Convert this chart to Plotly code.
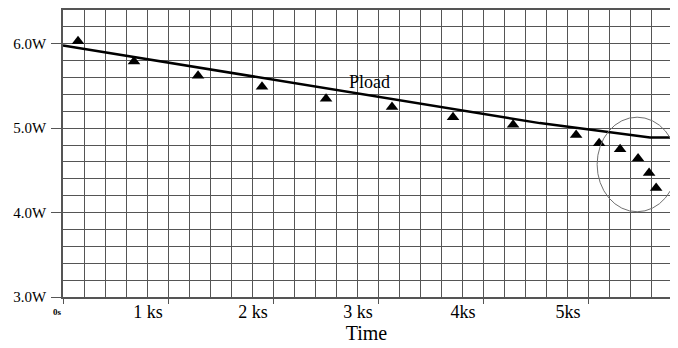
import plotly.graph_objects as go

# Pload curve (time in ks, power in W)
line_t = [0.0, 4.54, 5.59, 5.78]
line_p = [5.98, 5.06, 4.89, 4.89]

# measured points (triangles)
pts_t = [0.143, 0.676, 1.286, 1.895, 2.505, 3.133, 3.714, 4.286, 4.886, 5.105, 5.305, 5.476, 5.581, 5.648]
pts_p = [6.03, 5.79, 5.62, 5.49, 5.35, 5.25, 5.13, 5.04, 4.92, 4.82, 4.75, 4.64, 4.47, 4.29]

x_tickvals = [0, 1, 2, 3, 4, 5]
x_ticktext = ["", "1 ks", "2 ks", "3 ks", "4ks", "5ks"]
y_tickvals = [3, 4, 5, 6]
y_ticktext = ["3.0W", "4.0W", "5.0W", "6.0W"]

SERIF = "Liberation Serif, Times New Roman, serif"
GRID = "#555555"

fig = go.Figure()
fig.add_trace(go.Scatter(x=line_t, y=line_p, mode="lines",
                         line=dict(color="black", width=2.5), showlegend=False))
fig.add_trace(go.Scatter(x=pts_t, y=pts_p, mode="markers",
                         marker=dict(symbol="triangle-up", size=11, color="black"),
                         showlegend=False))

fig.add_annotation(x=2.92, y=5.55, text="Pload", showarrow=False,
                   font=dict(family=SERIF, size=18, color="black"))
fig.add_annotation(x=0, y=0, xref="x", yref="paper", text="<b>0s</b>", showarrow=False,
                   xshift=-6, yshift=-22, font=dict(family=SERIF, size=9, color="black"))

fig.add_shape(type="circle", xref="x", yref="y", x0=5.086, x1=5.848, y0=4.01, y1=5.13,
              line=dict(color="#707070", width=1))

fig.update_layout(
    width=670, height=340,
    margin=dict(l=55, r=8, t=0, b=51),
    paper_bgcolor="white", plot_bgcolor="white",
    font=dict(family=SERIF, color="black"),
    xaxis=dict(range=[0, 5.78], tickvals=x_tickvals, ticktext=x_ticktext,
               ticks="outside", ticklen=5, tickcolor=GRID, tickwidth=1.3,
               ticklabelshift=-20, ticklabelstandoff=-7,
               showgrid=True, gridcolor=GRID, gridwidth=1.3,
               minor=dict(dtick=0.2, showgrid=True, gridcolor=GRID, gridwidth=1.3, ticks=""),
               showline=True, linecolor="#555555", linewidth=1.5, mirror=True,
               zeroline=False, tickfont=dict(family=SERIF, size=18),
               title=dict(text="Time", font=dict(family=SERIF, size=20), standoff=0)),
    yaxis=dict(range=[3.0, 6.4], tickvals=y_tickvals, ticktext=y_ticktext,
               ticks="outside", ticklen=10, tickcolor="#555555", tickwidth=1.3,
               ticklabelstandoff=2,
               showgrid=True, gridcolor=GRID, gridwidth=1.3,
               minor=dict(dtick=0.2, showgrid=True, gridcolor=GRID, gridwidth=1.3, ticks=""),
               showline=True, linecolor="#555555", linewidth=1.5,
               zeroline=False, tickfont=dict(family=SERIF, size=15)),
)

fig.write_html("out.html")
